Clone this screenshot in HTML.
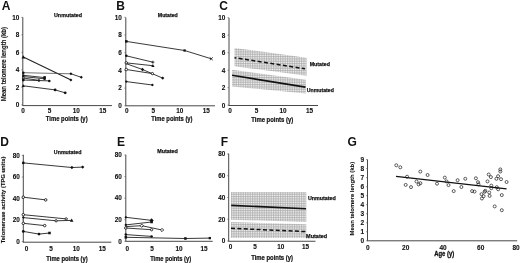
<!DOCTYPE html>
<html><head><meta charset="utf-8"><style>
html,body{margin:0;padding:0;background:#fff;width:520px;height:263px;overflow:hidden}
svg{display:block;will-change:transform}
text{font-family:"Liberation Sans", sans-serif}
</style></head><body>
<svg width="520" height="263" viewBox="0 0 520 263">
<defs>
<pattern id="grid" patternUnits="userSpaceOnUse" width="1.75" height="1.75">
<rect width="1.75" height="1.75" fill="#f6f6f6"/>
<path d="M0.4,0 V1.75 M0,0.4 H1.75" stroke="#a4a4a4" stroke-width="0.6"/>
</pattern>
</defs>
<rect width="520" height="263" fill="#fff"/>
<line x1="22.80" y1="17.20" x2="22.80" y2="105.60" stroke="#484848" stroke-width="1.0"/>
<line x1="22.30" y1="105.60" x2="112.00" y2="105.60" stroke="#484848" stroke-width="1.0"/>
<text x="19.4" y="107.1" font-size="6.4" font-weight="bold" text-anchor="end" fill="#111" stroke="#111" stroke-width="0.1">0</text>
<line x1="21.30" y1="104.80" x2="22.80" y2="104.80" stroke="#555" stroke-width="0.6"/>
<text x="19.4" y="89.61399999999999" font-size="6.4" font-weight="bold" text-anchor="end" fill="#111" stroke="#111" stroke-width="0.1">2</text>
<line x1="21.30" y1="87.31" x2="22.80" y2="87.31" stroke="#555" stroke-width="0.6"/>
<text x="19.4" y="72.128" font-size="6.4" font-weight="bold" text-anchor="end" fill="#111" stroke="#111" stroke-width="0.1">4</text>
<line x1="21.30" y1="69.83" x2="22.80" y2="69.83" stroke="#555" stroke-width="0.6"/>
<text x="19.4" y="54.641999999999996" font-size="6.4" font-weight="bold" text-anchor="end" fill="#111" stroke="#111" stroke-width="0.1">6</text>
<line x1="21.30" y1="52.34" x2="22.80" y2="52.34" stroke="#555" stroke-width="0.6"/>
<text x="19.4" y="37.15599999999999" font-size="6.4" font-weight="bold" text-anchor="end" fill="#111" stroke="#111" stroke-width="0.1">8</text>
<line x1="21.30" y1="34.86" x2="22.80" y2="34.86" stroke="#555" stroke-width="0.6"/>
<text x="19.4" y="19.66999999999999" font-size="6.4" font-weight="bold" text-anchor="end" fill="#111" stroke="#111" stroke-width="0.1">10</text>
<line x1="21.30" y1="17.37" x2="22.80" y2="17.37" stroke="#555" stroke-width="0.6"/>
<text x="23.0" y="112.8" font-size="6.4" font-weight="bold" text-anchor="middle" fill="#111" stroke="#111" stroke-width="0.1">0</text>
<text x="49.6" y="112.8" font-size="6.4" font-weight="bold" text-anchor="middle" fill="#111" stroke="#111" stroke-width="0.1">5</text>
<text x="76.2" y="112.8" font-size="6.4" font-weight="bold" text-anchor="middle" fill="#111" stroke="#111" stroke-width="0.1">10</text>
<text x="102.80000000000001" y="112.8" font-size="6.4" font-weight="bold" text-anchor="middle" fill="#111" stroke="#111" stroke-width="0.1">15</text>
<text x="1.8" y="9.9" font-size="12" font-weight="bold" text-anchor="start" fill="#111">A</text>
<text x="66.7" y="121.1" font-size="6.3" font-weight="bold" text-anchor="middle" textLength="41.8" lengthAdjust="spacingAndGlyphs" fill="#111" stroke="#111" stroke-width="0.2">Time points (y)</text>
<text x="68" y="16.8" font-size="5.9" font-weight="bold" text-anchor="middle" textLength="28" lengthAdjust="spacingAndGlyphs" fill="#111" stroke="#111" stroke-width="0.25">Unmutated</text>
<text x="5.8" y="64.2" font-size="6.3" font-weight="bold" text-anchor="middle" textLength="74.3" lengthAdjust="spacingAndGlyphs" transform="rotate(-90 5.8 64.2)" fill="#111" stroke="#111" stroke-width="0.1">Mean telomere length (kb)</text>
<polyline points="23.30,57.00 71.00,79.90" fill="none" stroke="#222" stroke-width="1.1"/>
<path d="M23.30,55.21 L25.09,58.38 L21.51,58.38Z" fill="#111"/>
<path d="M70.90,78.41 L72.40,79.90 L70.90,81.40 L69.41,79.90Z" fill="#111"/>
<polyline points="23.30,72.70 71.00,73.80" fill="none" stroke="#444" stroke-width="0.75"/>
<polyline points="71.00,73.80 81.30,77.30" fill="none" stroke="#222" stroke-width="0.9"/>
<circle cx="23.30" cy="72.70" r="1.265" fill="#111"/>
<path d="M70.90,72.30 L72.40,73.80 L70.90,75.30 L69.41,73.80Z" fill="#111"/>
<path d="M81.30,75.80 L82.80,77.30 L81.30,78.80 L79.80,77.30Z" fill="#111"/>
<polyline points="23.30,75.30 44.60,77.60" fill="none" stroke="#222" stroke-width="0.9"/>
<circle cx="23.30" cy="75.30" r="1.15" fill="#111"/>
<rect x="43.34" y="76.14" width="2.53" height="2.53" fill="#111"/>
<polyline points="23.30,76.60 44.60,78.80" fill="none" stroke="#222" stroke-width="0.9"/>
<circle cx="23.30" cy="76.60" r="1.035" fill="#111"/>
<circle cx="44.60" cy="78.80" r="1.38" fill="#111"/>
<polyline points="23.30,78.00 38.90,80.40" fill="none" stroke="#222" stroke-width="0.9"/>
<circle cx="23.30" cy="78.00" r="1.035" fill="#fff" stroke="#111" stroke-width="0.85"/>
<circle cx="38.90" cy="80.40" r="1.265" fill="#111"/>
<polyline points="23.30,80.00 49.30,80.90" fill="none" stroke="#222" stroke-width="0.9"/>
<circle cx="23.30" cy="80.00" r="1.38" fill="#111"/>
<circle cx="49.30" cy="80.90" r="1.265" fill="#111"/>
<polyline points="23.30,85.80 55.10,89.90 65.20,92.80" fill="none" stroke="#222" stroke-width="0.9"/>
<path d="M23.30,84.16 L24.94,87.06 L21.66,87.06Z" fill="#111"/>
<circle cx="55.10" cy="89.90" r="1.38" fill="#111"/>
<circle cx="65.20" cy="92.80" r="1.38" fill="#111"/>
<line x1="125.80" y1="17.50" x2="125.80" y2="105.80" stroke="#484848" stroke-width="1.0"/>
<line x1="125.30" y1="105.80" x2="215.00" y2="105.80" stroke="#484848" stroke-width="1.0"/>
<text x="121.9" y="108.1" font-size="6.4" font-weight="bold" text-anchor="end" fill="#111" stroke="#111" stroke-width="0.1">0</text>
<line x1="124.30" y1="105.80" x2="125.80" y2="105.80" stroke="#555" stroke-width="0.6"/>
<text x="121.9" y="90.39999999999999" font-size="6.4" font-weight="bold" text-anchor="end" fill="#111" stroke="#111" stroke-width="0.1">2</text>
<line x1="124.30" y1="88.10" x2="125.80" y2="88.10" stroke="#555" stroke-width="0.6"/>
<text x="121.9" y="72.7" font-size="6.4" font-weight="bold" text-anchor="end" fill="#111" stroke="#111" stroke-width="0.1">4</text>
<line x1="124.30" y1="70.40" x2="125.80" y2="70.40" stroke="#555" stroke-width="0.6"/>
<text x="121.9" y="55.0" font-size="6.4" font-weight="bold" text-anchor="end" fill="#111" stroke="#111" stroke-width="0.1">6</text>
<line x1="124.30" y1="52.70" x2="125.80" y2="52.70" stroke="#555" stroke-width="0.6"/>
<text x="121.9" y="37.3" font-size="6.4" font-weight="bold" text-anchor="end" fill="#111" stroke="#111" stroke-width="0.1">8</text>
<line x1="124.30" y1="35.00" x2="125.80" y2="35.00" stroke="#555" stroke-width="0.6"/>
<text x="121.9" y="19.599999999999998" font-size="6.4" font-weight="bold" text-anchor="end" fill="#111" stroke="#111" stroke-width="0.1">10</text>
<line x1="124.30" y1="17.30" x2="125.80" y2="17.30" stroke="#555" stroke-width="0.6"/>
<text x="126.7" y="113.3" font-size="6.4" font-weight="bold" text-anchor="middle" fill="#111" stroke="#111" stroke-width="0.1">0</text>
<text x="153.2" y="113.3" font-size="6.4" font-weight="bold" text-anchor="middle" fill="#111" stroke="#111" stroke-width="0.1">5</text>
<text x="179.7" y="113.3" font-size="6.4" font-weight="bold" text-anchor="middle" fill="#111" stroke="#111" stroke-width="0.1">10</text>
<text x="206.2" y="113.3" font-size="6.4" font-weight="bold" text-anchor="middle" fill="#111" stroke="#111" stroke-width="0.1">15</text>
<text x="116.2" y="10.0" font-size="12" font-weight="bold" text-anchor="start" fill="#111">B</text>
<text x="171.9" y="121.4" font-size="6.3" font-weight="bold" text-anchor="middle" textLength="41.2" lengthAdjust="spacingAndGlyphs" fill="#111" stroke="#111" stroke-width="0.2">Time points (y)</text>
<text x="167.8" y="16.8" font-size="5.9" font-weight="bold" text-anchor="middle" textLength="20.0" lengthAdjust="spacingAndGlyphs" fill="#111" stroke="#111" stroke-width="0.25">Mutated</text>
<polyline points="126.30,41.40 184.60,50.50 211.30,58.80" fill="none" stroke="#222" stroke-width="0.9"/>
<rect x="125.03" y="40.13" width="2.53" height="2.53" fill="#111"/>
<rect x="183.45" y="49.35" width="2.30" height="2.30" fill="#111"/>
<path d="M209.81,57.30 L212.80,60.29 M209.81,60.29 L212.80,57.30" stroke="#111" stroke-width="0.8"/>
<polyline points="126.30,55.80 152.90,62.20" fill="none" stroke="#222" stroke-width="0.9"/>
<circle cx="126.30" cy="55.80" r="1.265" fill="#111"/>
<path d="M151.41,62.20 L154.40,62.20 M152.90,60.71 L152.90,63.70" stroke="#111" stroke-width="0.8"/>
<polyline points="126.30,62.90 152.90,65.70" fill="none" stroke="#222" stroke-width="0.9"/>
<circle cx="126.30" cy="62.90" r="1.265" fill="#fff" stroke="#111" stroke-width="0.85"/>
<path d="M152.90,64.06 L154.54,66.97 L151.26,66.97Z" fill="#111"/>
<polyline points="126.30,63.70 142.50,69.50 162.70,78.10" fill="none" stroke="#222" stroke-width="0.9"/>
<path d="M142.50,67.86 L144.14,69.50 L142.50,71.14 L140.86,69.50Z" fill="#111"/>
<path d="M162.70,76.46 L164.34,78.10 L162.70,79.74 L161.06,78.10Z" fill="#111"/>
<polyline points="126.30,69.50 152.40,73.60" fill="none" stroke="#222" stroke-width="0.9"/>
<circle cx="126.30" cy="69.50" r="1.265" fill="#fff" stroke="#111" stroke-width="0.85"/>
<circle cx="152.40" cy="73.60" r="1.15" fill="#fff" stroke="#111" stroke-width="0.85"/>
<polyline points="126.30,81.60 152.40,85.00" fill="none" stroke="#222" stroke-width="0.9"/>
<circle cx="126.30" cy="81.60" r="1.15" fill="#111"/>
<circle cx="152.40" cy="85.00" r="1.15" fill="#111"/>
<line x1="229.00" y1="17.80" x2="229.00" y2="105.50" stroke="#484848" stroke-width="1.0"/>
<line x1="228.50" y1="105.50" x2="318.00" y2="105.50" stroke="#484848" stroke-width="1.0"/>
<text x="225.3" y="107.5" font-size="6.4" font-weight="bold" text-anchor="end" fill="#111" stroke="#111" stroke-width="0.1">0</text>
<line x1="227.50" y1="105.20" x2="229.00" y2="105.20" stroke="#555" stroke-width="0.6"/>
<text x="225.3" y="90.0" font-size="6.4" font-weight="bold" text-anchor="end" fill="#111" stroke="#111" stroke-width="0.1">2</text>
<line x1="227.50" y1="87.70" x2="229.00" y2="87.70" stroke="#555" stroke-width="0.6"/>
<text x="225.3" y="72.5" font-size="6.4" font-weight="bold" text-anchor="end" fill="#111" stroke="#111" stroke-width="0.1">4</text>
<line x1="227.50" y1="70.20" x2="229.00" y2="70.20" stroke="#555" stroke-width="0.6"/>
<text x="225.3" y="55.0" font-size="6.4" font-weight="bold" text-anchor="end" fill="#111" stroke="#111" stroke-width="0.1">6</text>
<line x1="227.50" y1="52.70" x2="229.00" y2="52.70" stroke="#555" stroke-width="0.6"/>
<text x="225.3" y="37.5" font-size="6.4" font-weight="bold" text-anchor="end" fill="#111" stroke="#111" stroke-width="0.1">8</text>
<line x1="227.50" y1="35.20" x2="229.00" y2="35.20" stroke="#555" stroke-width="0.6"/>
<text x="225.3" y="20.000000000000004" font-size="6.4" font-weight="bold" text-anchor="end" fill="#111" stroke="#111" stroke-width="0.1">10</text>
<line x1="227.50" y1="17.70" x2="229.00" y2="17.70" stroke="#555" stroke-width="0.6"/>
<text x="230.0" y="112.8" font-size="6.4" font-weight="bold" text-anchor="middle" fill="#111" stroke="#111" stroke-width="0.1">0</text>
<text x="256.5" y="112.8" font-size="6.4" font-weight="bold" text-anchor="middle" fill="#111" stroke="#111" stroke-width="0.1">5</text>
<text x="283.0" y="112.8" font-size="6.4" font-weight="bold" text-anchor="middle" fill="#111" stroke="#111" stroke-width="0.1">10</text>
<text x="309.5" y="112.8" font-size="6.4" font-weight="bold" text-anchor="middle" fill="#111" stroke="#111" stroke-width="0.1">15</text>
<text x="219.2" y="10.0" font-size="12" font-weight="bold" text-anchor="start" fill="#111">C</text>
<text x="272.25" y="121.6" font-size="6.3" font-weight="bold" text-anchor="middle" textLength="42" lengthAdjust="spacingAndGlyphs" fill="#111" stroke="#111" stroke-width="0.2">Time points (y)</text>
<path d="M234.5,47.9 L306.6,57.8 L306.6,75.8 L234.5,66.3 Z" fill="url(#grid)"/>
<path d="M232.0,69.8 L306.0,79.8 L306.0,93.5 L232.0,86.5 Z" fill="url(#grid)"/>
<line x1="234.50" y1="57.70" x2="305.00" y2="68.80" stroke="#111" stroke-width="1.5" stroke-dasharray="4 2.4" stroke-dashoffset="2.2"/>
<line x1="232.00" y1="75.30" x2="305.50" y2="87.10" stroke="#111" stroke-width="1.6"/>
<text x="309.7" y="65.6" font-size="5.9" font-weight="bold" text-anchor="start" textLength="20.2" lengthAdjust="spacingAndGlyphs" fill="#111" stroke="#111" stroke-width="0.25">Mutated</text>
<text x="306.8" y="91.8" font-size="5.9" font-weight="bold" text-anchor="start" textLength="27.0" lengthAdjust="spacingAndGlyphs" fill="#111" stroke="#111" stroke-width="0.25">Unmutated</text>
<line x1="23.30" y1="154.70" x2="23.30" y2="242.20" stroke="#484848" stroke-width="1.0"/>
<line x1="22.80" y1="242.20" x2="111.30" y2="242.20" stroke="#484848" stroke-width="1.0"/>
<text x="19.8" y="243.8" font-size="6.4" font-weight="bold" text-anchor="end" fill="#111" stroke="#111" stroke-width="0.1">0</text>
<line x1="21.80" y1="241.50" x2="23.30" y2="241.50" stroke="#555" stroke-width="0.6"/>
<text x="19.8" y="222.3" font-size="6.4" font-weight="bold" text-anchor="end" fill="#111" stroke="#111" stroke-width="0.1">20</text>
<line x1="21.80" y1="220.00" x2="23.30" y2="220.00" stroke="#555" stroke-width="0.6"/>
<text x="19.8" y="200.8" font-size="6.4" font-weight="bold" text-anchor="end" fill="#111" stroke="#111" stroke-width="0.1">40</text>
<line x1="21.80" y1="198.50" x2="23.30" y2="198.50" stroke="#555" stroke-width="0.6"/>
<text x="19.8" y="179.3" font-size="6.4" font-weight="bold" text-anchor="end" fill="#111" stroke="#111" stroke-width="0.1">60</text>
<line x1="21.80" y1="177.00" x2="23.30" y2="177.00" stroke="#555" stroke-width="0.6"/>
<text x="19.8" y="157.8" font-size="6.4" font-weight="bold" text-anchor="end" fill="#111" stroke="#111" stroke-width="0.1">80</text>
<line x1="21.80" y1="155.50" x2="23.30" y2="155.50" stroke="#555" stroke-width="0.6"/>
<text x="26.6" y="251.4" font-size="6.4" font-weight="bold" text-anchor="middle" fill="#111" stroke="#111" stroke-width="0.1">0</text>
<text x="51" y="251.4" font-size="6.4" font-weight="bold" text-anchor="middle" fill="#111" stroke="#111" stroke-width="0.1">5</text>
<text x="76.3" y="251.4" font-size="6.4" font-weight="bold" text-anchor="middle" fill="#111" stroke="#111" stroke-width="0.1">10</text>
<text x="102.2" y="251.4" font-size="6.4" font-weight="bold" text-anchor="middle" fill="#111" stroke="#111" stroke-width="0.1">15</text>
<text x="0.3" y="145.8" font-size="12" font-weight="bold" text-anchor="start" fill="#111">D</text>
<text x="67" y="260.6" font-size="6.3" font-weight="bold" text-anchor="middle" textLength="41.3" lengthAdjust="spacingAndGlyphs" fill="#111" stroke="#111" stroke-width="0.2">Time points (y)</text>
<text x="67.65" y="153.5" font-size="5.9" font-weight="bold" text-anchor="middle" textLength="27.6" lengthAdjust="spacingAndGlyphs" fill="#111" stroke="#111" stroke-width="0.25">Unmutated</text>
<text x="5.3" y="200.0" font-size="6.2" font-weight="bold" text-anchor="middle" textLength="86.7" lengthAdjust="spacingAndGlyphs" transform="rotate(-90 5.3 200.0)" fill="#111" stroke="#111" stroke-width="0.12">Telomerase activity (TPG units)</text>
<polyline points="23.30,162.90 71.90,167.50 82.70,167.10" fill="none" stroke="#222" stroke-width="0.9"/>
<circle cx="23.30" cy="162.90" r="1.38" fill="#111"/>
<path d="M71.90,165.86 L73.54,167.50 L71.90,169.14 L70.26,167.50Z" fill="#111"/>
<path d="M82.70,165.46 L84.34,167.10 L82.70,168.74 L81.06,167.10Z" fill="#111"/>
<polyline points="23.30,197.20 45.70,199.90" fill="none" stroke="#222" stroke-width="0.9"/>
<circle cx="23.30" cy="197.20" r="1.265" fill="#fff" stroke="#111" stroke-width="0.85"/>
<circle cx="45.70" cy="199.90" r="1.265" fill="#fff" stroke="#111" stroke-width="0.85"/>
<polyline points="23.30,214.70 66.20,218.90" fill="none" stroke="#222" stroke-width="0.9"/>
<circle cx="23.30" cy="214.70" r="1.265" fill="#fff" stroke="#111" stroke-width="0.85"/>
<circle cx="66.20" cy="218.90" r="1.15" fill="#fff" stroke="#111" stroke-width="0.85"/>
<polyline points="23.30,217.60 56.10,220.80 71.70,220.40" fill="none" stroke="#222" stroke-width="0.9"/>
<circle cx="23.30" cy="217.60" r="1.15" fill="#111"/>
<circle cx="56.10" cy="220.80" r="1.15" fill="#fff" stroke="#111" stroke-width="0.85"/>
<path d="M71.70,218.61 L73.49,221.78 L69.91,221.78Z" fill="#111"/>
<polyline points="23.30,223.30 44.70,225.60" fill="none" stroke="#222" stroke-width="0.9"/>
<circle cx="23.30" cy="223.30" r="1.265" fill="#fff" stroke="#111" stroke-width="0.85"/>
<circle cx="44.70" cy="225.60" r="1.265" fill="#fff" stroke="#111" stroke-width="0.85"/>
<polyline points="23.30,231.40 39.00,234.10 49.50,233.00" fill="none" stroke="#222" stroke-width="0.9"/>
<circle cx="23.30" cy="231.40" r="1.38" fill="#111"/>
<circle cx="39.00" cy="234.10" r="1.38" fill="#111"/>
<rect x="48.23" y="231.74" width="2.53" height="2.53" fill="#111"/>
<line x1="125.80" y1="154.70" x2="125.80" y2="241.30" stroke="#484848" stroke-width="1.0"/>
<line x1="125.30" y1="241.30" x2="212.70" y2="241.30" stroke="#484848" stroke-width="1.0"/>
<text x="121.9" y="243.60000000000002" font-size="6.4" font-weight="bold" text-anchor="end" fill="#111" stroke="#111" stroke-width="0.1">0</text>
<line x1="124.30" y1="241.30" x2="125.80" y2="241.30" stroke="#555" stroke-width="0.6"/>
<text x="121.9" y="222.04000000000002" font-size="6.4" font-weight="bold" text-anchor="end" fill="#111" stroke="#111" stroke-width="0.1">20</text>
<line x1="124.30" y1="219.74" x2="125.80" y2="219.74" stroke="#555" stroke-width="0.6"/>
<text x="121.9" y="200.48000000000002" font-size="6.4" font-weight="bold" text-anchor="end" fill="#111" stroke="#111" stroke-width="0.1">40</text>
<line x1="124.30" y1="198.18" x2="125.80" y2="198.18" stroke="#555" stroke-width="0.6"/>
<text x="121.9" y="178.92000000000002" font-size="6.4" font-weight="bold" text-anchor="end" fill="#111" stroke="#111" stroke-width="0.1">60</text>
<line x1="124.30" y1="176.62" x2="125.80" y2="176.62" stroke="#555" stroke-width="0.6"/>
<text x="121.9" y="157.36" font-size="6.4" font-weight="bold" text-anchor="end" fill="#111" stroke="#111" stroke-width="0.1">80</text>
<line x1="124.30" y1="155.06" x2="125.80" y2="155.06" stroke="#555" stroke-width="0.6"/>
<text x="127.3" y="251.3" font-size="6.4" font-weight="bold" text-anchor="middle" fill="#111" stroke="#111" stroke-width="0.1">0</text>
<text x="152.1" y="251.3" font-size="6.4" font-weight="bold" text-anchor="middle" fill="#111" stroke="#111" stroke-width="0.1">5</text>
<text x="179" y="251.3" font-size="6.4" font-weight="bold" text-anchor="middle" fill="#111" stroke="#111" stroke-width="0.1">10</text>
<text x="204" y="251.3" font-size="6.4" font-weight="bold" text-anchor="middle" fill="#111" stroke="#111" stroke-width="0.1">15</text>
<text x="116.95" y="146.4" font-size="12" font-weight="bold" text-anchor="start" fill="#111">E</text>
<text x="170.7" y="260.8" font-size="6.3" font-weight="bold" text-anchor="middle" textLength="41" lengthAdjust="spacingAndGlyphs" fill="#111" stroke="#111" stroke-width="0.2">Time points (y)</text>
<text x="167.6" y="153.1" font-size="5.9" font-weight="bold" text-anchor="middle" textLength="20.6" lengthAdjust="spacingAndGlyphs" fill="#111" stroke="#111" stroke-width="0.25">Mutated</text>
<polyline points="125.80,217.30 151.60,220.40" fill="none" stroke="#222" stroke-width="0.9"/>
<circle cx="125.80" cy="217.30" r="1.15" fill="#111"/>
<path d="M151.60,218.31 L153.69,220.40 L151.60,222.49 L149.51,220.40Z" fill="#111"/>
<polyline points="125.80,224.90 151.60,222.00" fill="none" stroke="#222" stroke-width="0.9"/>
<circle cx="125.80" cy="224.90" r="1.15" fill="#111"/>
<rect x="150.34" y="220.74" width="2.53" height="2.53" fill="#111"/>
<polyline points="125.80,226.60 141.70,225.70 162.00,230.00" fill="none" stroke="#222" stroke-width="0.9"/>
<path d="M141.70,224.06 L143.34,225.70 L141.70,227.34 L140.06,225.70Z" fill="#fff" stroke="#111" stroke-width="0.85"/>
<path d="M162.00,228.36 L163.64,230.00 L162.00,231.64 L160.36,230.00Z" fill="#fff" stroke="#111" stroke-width="0.85"/>
<polyline points="125.80,228.00 151.60,229.70" fill="none" stroke="#222" stroke-width="0.9"/>
<circle cx="125.80" cy="228.00" r="1.265" fill="#fff" stroke="#111" stroke-width="0.85"/>
<circle cx="151.60" cy="229.70" r="1.15" fill="#fff" stroke="#111" stroke-width="0.85"/>
<polyline points="125.80,234.60 151.60,236.40" fill="none" stroke="#222" stroke-width="0.9"/>
<circle cx="125.80" cy="234.60" r="1.265" fill="#111"/>
<circle cx="151.60" cy="236.40" r="1.265" fill="#111"/>
<polyline points="125.80,237.30 185.40,238.50 209.80,238.10" fill="none" stroke="#222" stroke-width="0.9"/>
<rect x="124.53" y="236.04" width="2.53" height="2.53" fill="#111"/>
<rect x="184.14" y="237.24" width="2.53" height="2.53" fill="#111"/>
<rect x="208.65" y="236.95" width="2.30" height="2.30" fill="#111"/>
<line x1="228.70" y1="153.50" x2="228.70" y2="241.25" stroke="#484848" stroke-width="1.0"/>
<line x1="228.20" y1="241.25" x2="315.50" y2="241.25" stroke="#484848" stroke-width="1.0"/>
<text x="225.3" y="243.3" font-size="6.4" font-weight="bold" text-anchor="end" fill="#111" stroke="#111" stroke-width="0.1">0</text>
<line x1="227.20" y1="241.00" x2="228.70" y2="241.00" stroke="#555" stroke-width="0.6"/>
<text x="225.3" y="221.55" font-size="6.4" font-weight="bold" text-anchor="end" fill="#111" stroke="#111" stroke-width="0.1">20</text>
<line x1="227.20" y1="219.25" x2="228.70" y2="219.25" stroke="#555" stroke-width="0.6"/>
<text x="225.3" y="199.8" font-size="6.4" font-weight="bold" text-anchor="end" fill="#111" stroke="#111" stroke-width="0.1">40</text>
<line x1="227.20" y1="197.50" x2="228.70" y2="197.50" stroke="#555" stroke-width="0.6"/>
<text x="225.3" y="178.05" font-size="6.4" font-weight="bold" text-anchor="end" fill="#111" stroke="#111" stroke-width="0.1">60</text>
<line x1="227.20" y1="175.75" x2="228.70" y2="175.75" stroke="#555" stroke-width="0.6"/>
<text x="225.3" y="156.3" font-size="6.4" font-weight="bold" text-anchor="end" fill="#111" stroke="#111" stroke-width="0.1">80</text>
<line x1="227.20" y1="154.00" x2="228.70" y2="154.00" stroke="#555" stroke-width="0.6"/>
<text x="230.5" y="249.3" font-size="6.4" font-weight="bold" text-anchor="middle" fill="#111" stroke="#111" stroke-width="0.1">0</text>
<text x="255" y="249.3" font-size="6.4" font-weight="bold" text-anchor="middle" fill="#111" stroke="#111" stroke-width="0.1">5</text>
<text x="280.75" y="249.3" font-size="6.4" font-weight="bold" text-anchor="middle" fill="#111" stroke="#111" stroke-width="0.1">10</text>
<text x="305.5" y="249.3" font-size="6.4" font-weight="bold" text-anchor="middle" fill="#111" stroke="#111" stroke-width="0.1">15</text>
<text x="220.8" y="146.3" font-size="12" font-weight="bold" text-anchor="start" fill="#111">F</text>
<text x="272.1" y="259.6" font-size="6.3" font-weight="bold" text-anchor="middle" textLength="41.8" lengthAdjust="spacingAndGlyphs" fill="#111" stroke="#111" stroke-width="0.2">Time points (y)</text>
<path d="M231.0,191.9 L306.3,191.9 L306.3,221.9 L231.0,219.7 Z" fill="url(#grid)"/>
<path d="M231.0,222.0 L306.3,224.3 L306.3,238.0 L231.0,238.0 Z" fill="url(#grid)"/>
<line x1="231.20" y1="205.40" x2="306.00" y2="208.70" stroke="#111" stroke-width="1.6"/>
<line x1="231.00" y1="228.30" x2="306.00" y2="231.60" stroke="#111" stroke-width="1.5" stroke-dasharray="4 2.4"/>
<text x="307.9" y="199.5" font-size="5.9" font-weight="bold" text-anchor="start" textLength="27.9" lengthAdjust="spacingAndGlyphs" fill="#111" stroke="#111" stroke-width="0.25">Unmutated</text>
<text x="306.1" y="238.4" font-size="5.9" font-weight="bold" text-anchor="start" textLength="21.1" lengthAdjust="spacingAndGlyphs" fill="#111" stroke="#111" stroke-width="0.25">Mutated</text>
<line x1="367.50" y1="159.50" x2="367.50" y2="240.80" stroke="#484848" stroke-width="1.0"/>
<line x1="367.00" y1="240.80" x2="517.20" y2="240.80" stroke="#484848" stroke-width="1.0"/>
<text x="364.2" y="243.10000000000002" font-size="6.5" font-weight="bold" text-anchor="end" fill="#111" stroke="#111" stroke-width="0.1">0</text>
<line x1="366.00" y1="240.80" x2="367.50" y2="240.80" stroke="#555" stroke-width="0.6"/>
<text x="364.2" y="234.08" font-size="6.5" font-weight="bold" text-anchor="end" fill="#111" stroke="#111" stroke-width="0.1">1</text>
<line x1="366.00" y1="231.78" x2="367.50" y2="231.78" stroke="#555" stroke-width="0.6"/>
<text x="364.2" y="225.06000000000003" font-size="6.5" font-weight="bold" text-anchor="end" fill="#111" stroke="#111" stroke-width="0.1">2</text>
<line x1="366.00" y1="222.76" x2="367.50" y2="222.76" stroke="#555" stroke-width="0.6"/>
<text x="364.2" y="216.04000000000002" font-size="6.5" font-weight="bold" text-anchor="end" fill="#111" stroke="#111" stroke-width="0.1">3</text>
<line x1="366.00" y1="213.74" x2="367.50" y2="213.74" stroke="#555" stroke-width="0.6"/>
<text x="364.2" y="207.02000000000004" font-size="6.5" font-weight="bold" text-anchor="end" fill="#111" stroke="#111" stroke-width="0.1">4</text>
<line x1="366.00" y1="204.72" x2="367.50" y2="204.72" stroke="#555" stroke-width="0.6"/>
<text x="364.2" y="198.00000000000003" font-size="6.5" font-weight="bold" text-anchor="end" fill="#111" stroke="#111" stroke-width="0.1">5</text>
<line x1="366.00" y1="195.70" x2="367.50" y2="195.70" stroke="#555" stroke-width="0.6"/>
<text x="364.2" y="188.98000000000002" font-size="6.5" font-weight="bold" text-anchor="end" fill="#111" stroke="#111" stroke-width="0.1">6</text>
<line x1="366.00" y1="186.68" x2="367.50" y2="186.68" stroke="#555" stroke-width="0.6"/>
<text x="364.2" y="179.96000000000004" font-size="6.5" font-weight="bold" text-anchor="end" fill="#111" stroke="#111" stroke-width="0.1">7</text>
<line x1="366.00" y1="177.66" x2="367.50" y2="177.66" stroke="#555" stroke-width="0.6"/>
<text x="364.2" y="170.94000000000003" font-size="6.5" font-weight="bold" text-anchor="end" fill="#111" stroke="#111" stroke-width="0.1">8</text>
<line x1="366.00" y1="168.64" x2="367.50" y2="168.64" stroke="#555" stroke-width="0.6"/>
<text x="364.2" y="161.92000000000002" font-size="6.5" font-weight="bold" text-anchor="end" fill="#111" stroke="#111" stroke-width="0.1">9</text>
<line x1="366.00" y1="159.62" x2="367.50" y2="159.62" stroke="#555" stroke-width="0.6"/>
<text x="367.7" y="249.70000000000002" font-size="6.5" font-weight="bold" text-anchor="middle" fill="#111" stroke="#111" stroke-width="0.1">0</text>
<text x="405.7" y="249.70000000000002" font-size="6.5" font-weight="bold" text-anchor="middle" fill="#111" stroke="#111" stroke-width="0.1">20</text>
<text x="443.0" y="249.70000000000002" font-size="6.5" font-weight="bold" text-anchor="middle" fill="#111" stroke="#111" stroke-width="0.1">40</text>
<text x="480.7" y="249.70000000000002" font-size="6.5" font-weight="bold" text-anchor="middle" fill="#111" stroke="#111" stroke-width="0.1">60</text>
<text x="516.0" y="249.70000000000002" font-size="6.5" font-weight="bold" text-anchor="middle" fill="#111" stroke="#111" stroke-width="0.1">80</text>
<text x="347.5" y="146.3" font-size="12" font-weight="bold" text-anchor="start" fill="#111">G</text>
<text x="444.2" y="256.0" font-size="6.4" font-weight="bold" text-anchor="middle" textLength="20.0" lengthAdjust="spacingAndGlyphs" fill="#111" stroke="#111" stroke-width="0.28">Age (y)</text>
<text x="354.2" y="198.6" font-size="6.2" font-weight="bold" text-anchor="middle" textLength="73.6" lengthAdjust="spacingAndGlyphs" transform="rotate(-90 354.2 198.6)" fill="#111" stroke="#111" stroke-width="0.08">Mean telomere length (kb)</text>
<line x1="396.00" y1="176.40" x2="506.60" y2="188.90" stroke="#111" stroke-width="1.2"/>
<circle cx="396.3" cy="165.3" r="1.5" fill="none" stroke="#1a1a1a" stroke-width="0.7"/>
<circle cx="400.3" cy="167.3" r="1.5" fill="none" stroke="#1a1a1a" stroke-width="0.7"/>
<circle cx="407.1" cy="176.7" r="1.5" fill="none" stroke="#1a1a1a" stroke-width="0.7"/>
<circle cx="405.7" cy="184.9" r="1.5" fill="none" stroke="#1a1a1a" stroke-width="0.7"/>
<circle cx="411.0" cy="187.1" r="1.5" fill="none" stroke="#1a1a1a" stroke-width="0.7"/>
<circle cx="416.5" cy="181.5" r="1.5" fill="none" stroke="#1a1a1a" stroke-width="0.7"/>
<circle cx="418.7" cy="184.4" r="1.5" fill="none" stroke="#1a1a1a" stroke-width="0.7"/>
<circle cx="420.4" cy="183.2" r="1.5" fill="none" stroke="#1a1a1a" stroke-width="0.7"/>
<circle cx="420.3" cy="171.6" r="1.5" fill="none" stroke="#1a1a1a" stroke-width="0.7"/>
<circle cx="427.6" cy="175.0" r="1.5" fill="none" stroke="#1a1a1a" stroke-width="0.7"/>
<circle cx="437.0" cy="183.7" r="1.5" fill="none" stroke="#1a1a1a" stroke-width="0.7"/>
<circle cx="444.8" cy="177.6" r="1.5" fill="none" stroke="#1a1a1a" stroke-width="0.7"/>
<circle cx="446.5" cy="181.4" r="1.5" fill="none" stroke="#1a1a1a" stroke-width="0.7"/>
<circle cx="448.5" cy="185.1" r="1.5" fill="none" stroke="#1a1a1a" stroke-width="0.7"/>
<circle cx="453.7" cy="191.1" r="1.5" fill="none" stroke="#1a1a1a" stroke-width="0.7"/>
<circle cx="457.6" cy="180.2" r="1.5" fill="none" stroke="#1a1a1a" stroke-width="0.7"/>
<circle cx="461.4" cy="187.0" r="1.5" fill="none" stroke="#1a1a1a" stroke-width="0.7"/>
<circle cx="465.3" cy="178.8" r="1.5" fill="none" stroke="#1a1a1a" stroke-width="0.7"/>
<circle cx="472.1" cy="191.1" r="1.5" fill="none" stroke="#1a1a1a" stroke-width="0.7"/>
<circle cx="474.5" cy="191.6" r="1.5" fill="none" stroke="#1a1a1a" stroke-width="0.7"/>
<circle cx="475.9" cy="178.3" r="1.5" fill="none" stroke="#1a1a1a" stroke-width="0.7"/>
<circle cx="478.0" cy="182.2" r="1.5" fill="none" stroke="#1a1a1a" stroke-width="0.7"/>
<circle cx="478.5" cy="184.3" r="1.5" fill="none" stroke="#1a1a1a" stroke-width="0.7"/>
<circle cx="481.5" cy="194.2" r="1.5" fill="none" stroke="#1a1a1a" stroke-width="0.7"/>
<circle cx="481.9" cy="198.5" r="1.5" fill="none" stroke="#1a1a1a" stroke-width="0.7"/>
<circle cx="483.6" cy="196.2" r="1.5" fill="none" stroke="#1a1a1a" stroke-width="0.7"/>
<circle cx="485.3" cy="190.8" r="1.5" fill="none" stroke="#1a1a1a" stroke-width="0.7"/>
<circle cx="487.5" cy="181.4" r="1.5" fill="none" stroke="#1a1a1a" stroke-width="0.7"/>
<circle cx="488.7" cy="174.5" r="1.5" fill="none" stroke="#1a1a1a" stroke-width="0.7"/>
<circle cx="489.2" cy="192.5" r="1.5" fill="none" stroke="#1a1a1a" stroke-width="0.7"/>
<circle cx="489.6" cy="195.9" r="1.5" fill="none" stroke="#1a1a1a" stroke-width="0.7"/>
<circle cx="490.9" cy="177.1" r="1.5" fill="none" stroke="#1a1a1a" stroke-width="0.7"/>
<circle cx="491.3" cy="185.6" r="1.5" fill="none" stroke="#1a1a1a" stroke-width="0.7"/>
<circle cx="491.3" cy="188.2" r="1.5" fill="none" stroke="#1a1a1a" stroke-width="0.7"/>
<circle cx="496.4" cy="178.8" r="1.5" fill="none" stroke="#1a1a1a" stroke-width="0.7"/>
<circle cx="498.1" cy="176.2" r="1.5" fill="none" stroke="#1a1a1a" stroke-width="0.7"/>
<circle cx="500.3" cy="169.4" r="1.5" fill="none" stroke="#1a1a1a" stroke-width="0.7"/>
<circle cx="500.3" cy="171.5" r="1.5" fill="none" stroke="#1a1a1a" stroke-width="0.7"/>
<circle cx="501.0" cy="179.2" r="1.5" fill="none" stroke="#1a1a1a" stroke-width="0.7"/>
<circle cx="506.6" cy="182.0" r="1.5" fill="none" stroke="#1a1a1a" stroke-width="0.7"/>
<circle cx="494.7" cy="206.4" r="1.5" fill="none" stroke="#1a1a1a" stroke-width="0.7"/>
<circle cx="501.8" cy="210.2" r="1.5" fill="none" stroke="#1a1a1a" stroke-width="0.7"/>
<circle cx="501.8" cy="195.1" r="1.5" fill="none" stroke="#1a1a1a" stroke-width="0.7"/>
<circle cx="484.6" cy="191.8" r="1.5" fill="none" stroke="#1a1a1a" stroke-width="0.7"/>
<circle cx="498.2" cy="189.3" r="1.5" fill="none" stroke="#1a1a1a" stroke-width="0.7"/>
<circle cx="496.8" cy="187.2" r="1.5" fill="none" stroke="#1a1a1a" stroke-width="0.7"/>
</svg>
</body></html>
